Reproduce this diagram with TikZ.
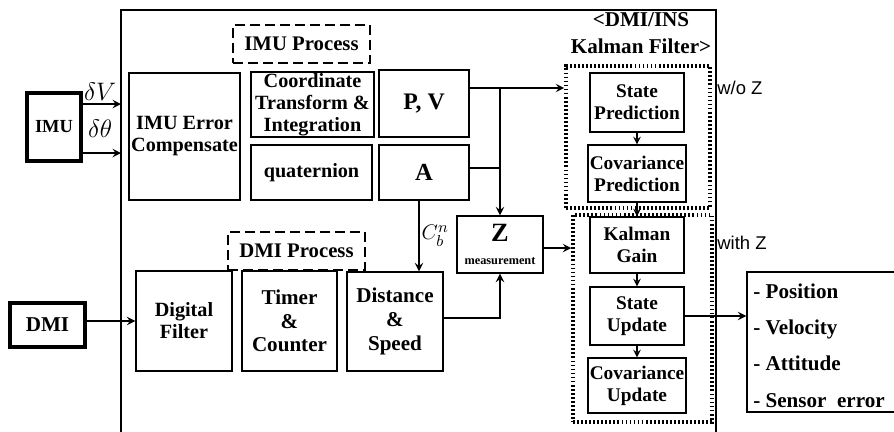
\documentclass[tikz,border=0pt]{standalone}
\usepackage{amsmath,amssymb}
\usepackage{fontspec}
\setmainfont{Liberation Serif}
\setsansfont{Liberation Sans}
\usepackage{tikz}
\usetikzlibrary{arrows, positioning, calc}

\begin{document}
\begin{tikzpicture}[x=0.2mm, y=-0.2mm,
    box/.style={draw, rectangle, line width=0.8pt, inner sep=1pt, align=center, font=\bfseries\fontsize{11.5}{12.5}\selectfont},
    sensor/.style={box, line width=2.4pt},
    procbox/.style={draw, dashed, dash pattern=on 2mm off 1mm, line width=1pt, inner sep=1pt, minimum width=27.4mm, minimum height=7.6mm, font=\bfseries\fontsize{11.8}{12}\selectfont},
    kfbox/.style={box, minimum width=18.8mm, minimum height=11.4mm, font=\bfseries\fontsize{11}{12.5}\selectfont},
    kfgroup/.style={draw, dash pattern=on 1pt off 1.3pt, line width=2pt, inner sep=0pt},
    arrow/.style={line width=1.1pt,->,>=stealth},
    small/.style={line width=0.9pt,->,>=stealth}
]
\useasboundingbox (0,0) rectangle (894,432);
\clip (0,0) rectangle (894,432);

% Outer frame
\draw[line width=1.2pt] (121,450) -- (121,10) -- (716,10) -- (716,450);
\coordinate (frameW) at (121,0);

% Nodes
\node (imu) [sensor, minimum width=10.8mm, minimum height=13.6mm, font=\bfseries\fontsize{10.5}{12}\selectfont] at (54,127) {IMU};
\node (dmi) [sensor, minimum width=15mm, minimum height=8.8mm, font=\bfseries\fontsize{12}{12}\selectfont] at (47.5,325) {DMI};

\node (errcomp) [box, minimum width=22.2mm, minimum height=25.4mm] at (184.5,136.5) {IMU Error\\Compensate};
\node (imuproc) [procbox] at (301.5,44) {IMU Process};
\node (coord) [box, minimum width=24.6mm, minimum height=13mm, inner sep=0pt] at (312.5,104.5) {Coordinate\\Transform \&\\Integration};
\node (quat) [box, minimum width=24.2mm, minimum height=11mm] at (311.5,172.5) {quaternion};
\node (pv) [box, minimum width=18mm, minimum height=13.4mm, font=\bfseries\fontsize{13.5}{14}\selectfont] at (424,103.5) {P, V};
\node (att) [box, minimum width=18mm, minimum height=11mm, font=\bfseries\fontsize{14}{14}\selectfont] at (424,172.5) {A};
\node (zmeas) [box, minimum width=17.2mm, minimum height=11.4mm] at (500,244.5) {{\fontsize{15}{15}\selectfont Z}\\[1pt]{\fontsize{7}{8}\selectfont measurement}};

\node (dmiproc) [procbox] at (296.5,251) {DMI Process};
\node (filter) [box, minimum width=19.2mm, minimum height=20mm] at (184,321) {Digital\\Filter};
\node (timer) [box, minimum width=19mm, minimum height=20mm, font=\bfseries\fontsize{12}{13.5}\selectfont] at (289.5,321) {Timer\\\&\\Counter};
\node (dist) [box, minimum width=19.2mm, minimum height=19.8mm, font=\bfseries\fontsize{12}{13.5}\selectfont] at (395,321.5) {Distance\\\&\\Speed};

\node (kftitle) [font=\bfseries\fontsize{12}{15}\selectfont, align=center] at (641,33) {<DMI/INS\\Kalman Filter>};
\node (kfpred) [kfgroup, minimum width=28.8mm, minimum height=28.4mm] at (638,137) {};
\node (kfupd) [kfgroup, minimum width=27.8mm, minimum height=41.4mm] at (642.5,318.5) {};
\node (statepred) [kfbox, minimum height=11.8mm] at (637,102.5) {State\\Prediction};
\node (covpred) [kfbox] at (637,173.5) {Covariance\\Prediction};
\node (gain) [kfbox, minimum height=11.2mm] at (637,245) {Kalman\\Gain};
\node (stateupd) [kfbox, minimum height=11.6mm] at (637,316) {State\\Update};
\node (covupd) [kfbox, minimum height=11mm] at (637,385.5) {Covariance\\Update};

\node (woz) [anchor=west, inner sep=0pt, font=\sffamily\fontsize{10.5}{12}\selectfont] at (717,88) {w/o Z};
\node (withz) [anchor=west, inner sep=0pt, font=\sffamily\fontsize{10.5}{12}\selectfont] at (717,243) {with Z};

\node (out) [box, minimum width=32.2mm, minimum height=28mm] at (827.5,342) {};
\node (outlist) [anchor=west, align=left, inner sep=0pt, font=\bfseries\fontsize{12}{20.7}\selectfont] at (753,345.5) {- Position\\- Velocity\\- Attitude\\- Sensor\enspace error};

% Edges
\draw [arrow] ([yshift=4.6mm]imu.east) coordinate (dv) -- (dv -| frameW) node[pos=0.45, above=0.6mm, inner sep=0pt, font=\fontsize{15}{15}\selectfont] {$\delta V$};
\draw [arrow] ([yshift=-5.2mm]imu.east) coordinate (dt) -- (dt -| frameW) node[pos=0.45, above=3mm, inner sep=0pt, font=\fontsize{15}{15}\selectfont] {$\delta\theta$};
\draw [arrow] (dmi.east |- filter.west) -- (filter.west);

\draw [arrow] ([yshift=3.1mm]pv.east) coordinate (pvo) -- (pvo -| kfpred.west);
\draw [arrow] (pvo -| zmeas.north) -- (zmeas.north);
\draw [line width=1.1pt] ([yshift=0.9mm]att.east) coordinate (ao) -- (ao -| zmeas.north);
\draw [arrow] ([xshift=-1mm]att.south) coordinate (as) -- (as |- dist.north) node[midway, right=1pt, inner sep=0pt, font=\fontsize{13}{13}\selectfont] {$C_b^n$};
\draw [arrow] (dist.east |- 0,318) -| (zmeas.south);
\draw [arrow] (zmeas.east |- 0,248) coordinate (zo) -- (zo -| kfupd.west);

\draw [small] (statepred) -- (covpred);
\draw [small] (covpred) -- (gain);
\draw [small] (gain) -- (stateupd);
\draw [small] (stateupd) -- (covupd);
\draw [arrow] (stateupd.east) -- (stateupd.east -| out.west);

\end{tikzpicture}
\end{document}
